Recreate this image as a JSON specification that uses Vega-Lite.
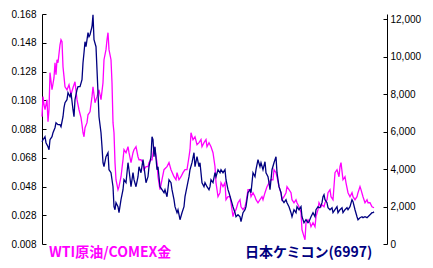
{
  "$schema": "https://vega.github.io/schema/vega-lite/v6.json",
  "width": 345,
  "height": 230,
  "autosize": {"type": "none"},
  "padding": {"left": 42, "top": 14, "right": 46, "bottom": 24},
  "background": "white",
  "config": {
    "view": {"stroke": null},
    "axis": {
      "labelFont": "Liberation Sans",
      "labelFontSize": 10,
      "labelColor": "black",
      "domainColor": "black",
      "domainWidth": 1,
      "tickColor": "black",
      "tickWidth": 1,
      "grid": false,
      "title": null
    }
  },
  "datasets": {
    "wti": [
      {"t":0,"r":0.0966},{"t":1,"r":0.1105},{"t":2,"r":0.1049},{"t":3,"r":0.1014},{"t":5,"r":0.1084},{"t":6,"r":0.0931},{"t":7,"r":0.1014},{"t":8,"r":0.1272},{"t":10,"r":0.1153},{"t":12,"r":0.1237},{"t":13,"r":0.1341},{"t":14,"r":0.1258},{"t":15,"r":0.1362},{"t":16,"r":0.1341},{"t":18,"r":0.1466},{"t":19,"r":0.1501},{"t":20,"r":0.1487},{"t":21,"r":0.1313},{"t":22,"r":0.1244},{"t":23,"r":0.1174},{"t":25,"r":0.1153},{"t":27,"r":0.1188},{"t":29,"r":0.1119},{"t":31,"r":0.1167},{"t":33,"r":0.1209},{"t":35,"r":0.1084},{"t":37,"r":0.1014},{"t":39,"r":0.0959},{"t":40,"r":0.0910},{"t":41,"r":0.0854},{"t":42,"r":0.0826},{"t":43,"r":0.0889},{"t":45,"r":0.0924},{"t":46,"r":0.0979},{"t":48,"r":0.1000},{"t":50,"r":0.1105},{"t":51,"r":0.1174},{"t":53,"r":0.1063},{"t":55,"r":0.1105},{"t":57,"r":0.1153},{"t":59,"r":0.1084},{"t":61,"r":0.1202},{"t":62,"r":0.1362},{"t":64,"r":0.1432},{"t":65,"r":0.1501},{"t":66,"r":0.1550},{"t":67,"r":0.1432},{"t":69,"r":0.1362},{"t":70,"r":0.1202},{"t":71,"r":0.0924},{"t":72,"r":0.0854},{"t":73,"r":0.0646},{"t":74,"r":0.0527},{"t":76,"r":0.0458},{"t":77,"r":0.0479},{"t":79,"r":0.0548},{"t":81,"r":0.0666},{"t":82,"r":0.0736},{"t":84,"r":0.0715},{"t":86,"r":0.0757},{"t":87,"r":0.0715},{"t":89,"r":0.0646},{"t":91,"r":0.0715},{"t":92,"r":0.0736},{"t":94,"r":0.0757},{"t":96,"r":0.0687},{"t":97,"r":0.0666},{"t":99,"r":0.0666},{"t":101,"r":0.0646},{"t":102,"r":0.0597},{"t":104,"r":0.0618},{"t":106,"r":0.0618},{"t":107,"r":0.0646},{"t":109,"r":0.0666},{"t":110,"r":0.0666},{"t":112,"r":0.0757},{"t":113,"r":0.0736},{"t":115,"r":0.0646},{"t":116,"r":0.0548},{"t":118,"r":0.0458},{"t":120,"r":0.0527},{"t":122,"r":0.0597},{"t":125,"r":0.0618},{"t":127,"r":0.0646},{"t":129,"r":0.0597},{"t":132,"r":0.0548},{"t":134,"r":0.0527},{"t":135,"r":0.0576},{"t":137,"r":0.0527},{"t":139,"r":0.0548},{"t":141,"r":0.0576},{"t":143,"r":0.0597},{"t":145,"r":0.0597},{"t":147,"r":0.0687},{"t":148,"r":0.0736},{"t":149,"r":0.0854},{"t":151,"r":0.0806},{"t":153,"r":0.0826},{"t":155,"r":0.0771},{"t":157,"r":0.0785},{"t":159,"r":0.0806},{"t":160,"r":0.0757},{"t":162,"r":0.0785},{"t":164,"r":0.0806},{"t":165,"r":0.0757},{"t":167,"r":0.0785},{"t":169,"r":0.0757},{"t":171,"r":0.0715},{"t":173,"r":0.0618},{"t":174,"r":0.0506},{"t":176,"r":0.0409},{"t":178,"r":0.0437},{"t":179,"r":0.0506},{"t":181,"r":0.0479},{"t":183,"r":0.0506},{"t":184,"r":0.0388},{"t":186,"r":0.0409},{"t":188,"r":0.0409},{"t":189,"r":0.0367},{"t":191,"r":0.0270},{"t":192,"r":0.0298},{"t":194,"r":0.0319},{"t":196,"r":0.0367},{"t":198,"r":0.0388},{"t":199,"r":0.0339},{"t":201,"r":0.0319},{"t":203,"r":0.0339},{"t":204,"r":0.0367},{"t":206,"r":0.0458},{"t":208,"r":0.0458},{"t":209,"r":0.0409},{"t":211,"r":0.0437},{"t":213,"r":0.0409},{"t":214,"r":0.0388},{"t":216,"r":0.0367},{"t":218,"r":0.0388},{"t":220,"r":0.0409},{"t":221,"r":0.0388},{"t":223,"r":0.0437},{"t":225,"r":0.0479},{"t":227,"r":0.0506},{"t":229,"r":0.0527},{"t":231,"r":0.0527},{"t":232,"r":0.0597},{"t":234,"r":0.0576},{"t":235,"r":0.0548},{"t":237,"r":0.0479},{"t":239,"r":0.0437},{"t":240,"r":0.0388},{"t":242,"r":0.0409},{"t":244,"r":0.0437},{"t":245,"r":0.0479},{"t":247,"r":0.0458},{"t":249,"r":0.0437},{"t":250,"r":0.0388},{"t":252,"r":0.0367},{"t":254,"r":0.0388},{"t":255,"r":0.0367},{"t":257,"r":0.0339},{"t":259,"r":0.0298},{"t":260,"r":0.0179},{"t":262,"r":0.0131},{"t":263,"r":0.0110},{"t":264,"r":0.0228},{"t":266,"r":0.0249},{"t":268,"r":0.0228},{"t":269,"r":0.0200},{"t":271,"r":0.0228},{"t":273,"r":0.0200},{"t":274,"r":0.0270},{"t":276,"r":0.0319},{"t":277,"r":0.0367},{"t":279,"r":0.0339},{"t":280,"r":0.0353},{"t":282,"r":0.0339},{"t":283,"r":0.0367},{"t":285,"r":0.0388},{"t":286,"r":0.0437},{"t":288,"r":0.0458},{"t":289,"r":0.0409},{"t":291,"r":0.0388},{"t":293,"r":0.0576},{"t":295,"r":0.0597},{"t":297,"r":0.0548},{"t":298,"r":0.0618},{"t":299,"r":0.0646},{"t":301,"r":0.0527},{"t":303,"r":0.0548},{"t":304,"r":0.0506},{"t":306,"r":0.0437},{"t":308,"r":0.0409},{"t":310,"r":0.0437},{"t":311,"r":0.0409},{"t":313,"r":0.0388},{"t":315,"r":0.0409},{"t":316,"r":0.0437},{"t":318,"r":0.0479},{"t":319,"r":0.0458},{"t":321,"r":0.0409},{"t":323,"r":0.0367},{"t":325,"r":0.0388},{"t":326,"r":0.0367},{"t":328,"r":0.0367},{"t":330,"r":0.0339},{"t":332,"r":0.0332}
    ],
    "nc": [
      {"t":0,"p":5456},{"t":1,"p":5562},{"t":3,"p":5722},{"t":4,"p":5402},{"t":6,"p":5189},{"t":7,"p":5029},{"t":8,"p":5562},{"t":10,"p":5722},{"t":11,"p":5936},{"t":13,"p":6202},{"t":14,"p":6469},{"t":16,"p":6362},{"t":18,"p":6362},{"t":19,"p":6256},{"t":21,"p":6789},{"t":22,"p":7269},{"t":23,"p":7536},{"t":25,"p":7696},{"t":26,"p":8069},{"t":28,"p":7855},{"t":29,"p":8069},{"t":31,"p":7162},{"t":32,"p":6789},{"t":33,"p":7696},{"t":35,"p":8229},{"t":36,"p":8389},{"t":38,"p":8389},{"t":40,"p":8762},{"t":41,"p":9669},{"t":42,"p":10202},{"t":43,"p":10789},{"t":44,"p":10522},{"t":45,"p":10895},{"t":46,"p":11269},{"t":47,"p":11056},{"t":48,"p":11162},{"t":50,"p":11589},{"t":51,"p":12229},{"t":52,"p":10895},{"t":54,"p":10522},{"t":55,"p":9295},{"t":56,"p":8069},{"t":57,"p":6789},{"t":59,"p":5936},{"t":60,"p":5189},{"t":61,"p":4336},{"t":62,"p":4122},{"t":64,"p":4656},{"t":66,"p":4869},{"t":67,"p":3962},{"t":69,"p":3802},{"t":71,"p":3056},{"t":72,"p":1989},{"t":73,"p":1829},{"t":74,"p":2203},{"t":76,"p":1989},{"t":77,"p":1669},{"t":79,"p":2363},{"t":81,"p":2896},{"t":82,"p":3429},{"t":84,"p":3269},{"t":86,"p":4336},{"t":87,"p":3962},{"t":89,"p":3056},{"t":91,"p":3802},{"t":92,"p":3429},{"t":94,"p":3056},{"t":96,"p":3589},{"t":97,"p":4122},{"t":99,"p":3802},{"t":101,"p":4496},{"t":102,"p":4122},{"t":104,"p":3269},{"t":106,"p":3589},{"t":107,"p":4122},{"t":109,"p":4656},{"t":110,"p":5722},{"t":111,"p":5562},{"t":112,"p":4656},{"t":113,"p":5189},{"t":115,"p":3962},{"t":116,"p":4122},{"t":118,"p":3056},{"t":120,"p":2896},{"t":122,"p":2736},{"t":123,"p":2896},{"t":125,"p":2522},{"t":127,"p":3429},{"t":129,"p":3269},{"t":130,"p":2896},{"t":132,"p":2363},{"t":133,"p":1989},{"t":135,"p":1669},{"t":136,"p":1829},{"t":138,"p":1296},{"t":140,"p":1669},{"t":142,"p":1989},{"t":143,"p":2522},{"t":145,"p":3056},{"t":147,"p":3589},{"t":148,"p":3962},{"t":150,"p":4336},{"t":152,"p":4869},{"t":153,"p":4122},{"t":155,"p":4656},{"t":157,"p":4122},{"t":158,"p":4336},{"t":160,"p":3269},{"t":162,"p":3056},{"t":163,"p":3269},{"t":165,"p":3056},{"t":167,"p":2896},{"t":168,"p":3056},{"t":169,"p":3429},{"t":171,"p":3269},{"t":173,"p":3802},{"t":174,"p":3589},{"t":176,"p":3962},{"t":178,"p":3802},{"t":179,"p":3962},{"t":181,"p":3802},{"t":183,"p":3962},{"t":184,"p":3429},{"t":186,"p":2896},{"t":187,"p":2736},{"t":189,"p":2363},{"t":191,"p":1989},{"t":193,"p":1669},{"t":194,"p":1456},{"t":196,"p":1563},{"t":198,"p":1456},{"t":199,"p":1189},{"t":201,"p":1669},{"t":203,"p":1829},{"t":204,"p":1989},{"t":206,"p":2736},{"t":208,"p":2896},{"t":209,"p":2736},{"t":211,"p":3802},{"t":213,"p":3589},{"t":214,"p":3962},{"t":216,"p":4496},{"t":218,"p":4122},{"t":219,"p":4336},{"t":221,"p":3962},{"t":223,"p":4389},{"t":224,"p":3802},{"t":226,"p":3589},{"t":227,"p":3269},{"t":228,"p":2896},{"t":230,"p":3962},{"t":232,"p":4336},{"t":234,"p":4656},{"t":235,"p":3802},{"t":237,"p":3056},{"t":239,"p":2736},{"t":240,"p":2363},{"t":242,"p":2203},{"t":244,"p":2363},{"t":245,"p":2203},{"t":247,"p":1989},{"t":249,"p":1669},{"t":250,"p":1456},{"t":252,"p":1829},{"t":254,"p":1669},{"t":255,"p":1989},{"t":257,"p":1829},{"t":259,"p":1989},{"t":260,"p":1456},{"t":262,"p":1136},{"t":264,"p":1296},{"t":266,"p":1136},{"t":267,"p":1189},{"t":269,"p":1456},{"t":271,"p":1669},{"t":273,"p":1456},{"t":274,"p":1829},{"t":276,"p":1989},{"t":277,"p":1936},{"t":278,"p":1936},{"t":280,"p":2203},{"t":281,"p":2522},{"t":282,"p":2629},{"t":283,"p":2363},{"t":285,"p":2203},{"t":286,"p":1936},{"t":288,"p":1829},{"t":290,"p":1936},{"t":291,"p":1669},{"t":293,"p":1829},{"t":295,"p":1989},{"t":296,"p":1669},{"t":298,"p":1829},{"t":300,"p":1936},{"t":301,"p":1669},{"t":303,"p":1829},{"t":305,"p":1936},{"t":306,"p":1829},{"t":308,"p":1989},{"t":310,"p":2363},{"t":311,"p":2256},{"t":313,"p":1829},{"t":315,"p":1456},{"t":316,"p":1296},{"t":318,"p":1403},{"t":320,"p":1456},{"t":321,"p":1403},{"t":323,"p":1456},{"t":325,"p":1403},{"t":326,"p":1456},{"t":328,"p":1563},{"t":330,"p":1669},{"t":331,"p":1669},{"t":332,"p":1723}
    ]
  },
  "layer": [
    {
      "data": {"name": "wti"},
      "mark": {"type": "line", "strokeWidth": 1.3},
      "encoding": {
        "x": {"field": "t", "type": "quantitative", "scale": {"domain": [0, 345], "nice": false, "zero": false}, "axis": null},
        "y": {
          "field": "r", "type": "quantitative",
          "scale": {"domain": [0.008, 0.168], "nice": false, "zero": false},
          "axis": {"orient": "left", "values": [0.008, 0.028, 0.048, 0.068, 0.088, 0.108, 0.128, 0.148, 0.168], "format": ".3f", "tickSize": -4, "labelPadding": 10}
        },
        "color": {
          "datum": "WTI原油/COMEX金", "type": "nominal",
          "scale": {"domain": ["WTI原油/COMEX金", "日本ケミコン(6997)"], "range": ["#FF00FF", "#000080"]},
          "legend": {
            "orient": "bottom", "direction": "horizontal", "title": null,
            "symbolSize": 0, "symbolStrokeWidth": 0, "symbolOpacity": 0,
            "labelFont": "Noto Sans CJK JP", "labelFontSize": 14, "labelFontWeight": "bold",
            "labelOffset": -7, "columnPadding": 66, "offset": 2, "padding": 0, "labelLimit": 200,
            "encode": {"labels": {"update": {"fill": {"signal": "datum.value === 'WTI原油/COMEX金' ? '#FF00FF' : '#000080'"}}}}
          }
        }
      }
    },
    {
      "data": {"name": "nc"},
      "mark": {"type": "line", "strokeWidth": 1.3},
      "encoding": {
        "x": {"field": "t", "type": "quantitative", "scale": {"domain": [0, 345], "nice": false, "zero": false}, "axis": null},
        "y": {
          "field": "p", "type": "quantitative",
          "scale": {"domain": [0, 12267], "nice": false, "zero": false},
          "axis": {"orient": "right", "values": [0, 2000, 4000, 6000, 8000, 10000, 12000], "format": ",d", "tickSize": -4, "labelPadding": 7}
        },
        "color": {"datum": "日本ケミコン(6997)", "type": "nominal"}
      }
    }
  ],
  "resolve": {"scale": {"y": "independent"}}
}
